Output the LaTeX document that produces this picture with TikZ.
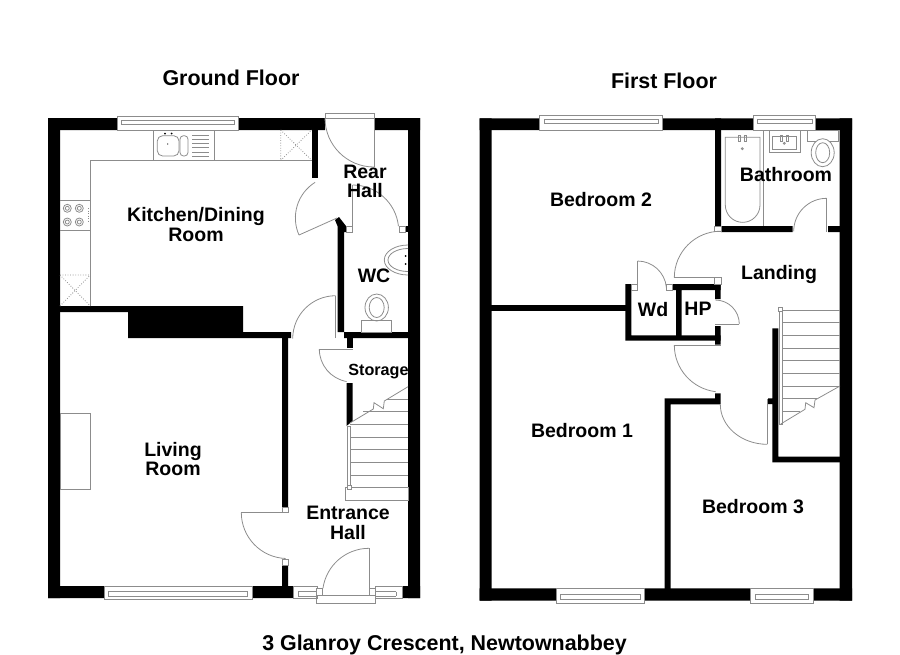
\documentclass[tikz,border=0pt]{standalone}
\usepackage{fontspec}
\setmainfont{Liberation Sans}
\usepackage{tikz}
\tikzstyle{wall} = [fill=black, draw=none]
\tikzstyle{fitting} = [draw=black!45, line width=0.45pt]
\tikzstyle{dotbox} = [draw=black!45, line width=0.45pt, densely dotted]
\tikzstyle{jamb} = [draw=black!45, line width=0.45pt, fill=white]
\tikzstyle{room} = [font=\bfseries\fontsize{11.1}{11}\selectfont, align=center, text=black, inner sep=0pt]
\tikzstyle{title} = [font=\bfseries\fontsize{12.2}{14}\selectfont, text=black, inner sep=0pt]

\begin{document}
\begin{tikzpicture}[x=0.02cm, y=-0.02cm]
   \useasboundingbox (0,0) rectangle (900,654);
   % ground floor walls
   \fill [wall] (48,118) rectangle (117,130) (238,118) rectangle (325,130) (374,118) rectangle (420,130);
   \fill [wall] (48,118) rectangle (60,598) (408,118) rectangle (420,598);
   \fill [wall] (48,586) rectangle (104,598) (252,586) rectangle (293,598) (402,586) rectangle (420,598);
   \fill [wall] (312,118) rectangle (318,178);
   \fill [wall] (335,220) -- (339,217) -- (346,226) -- (346,232) -- (344,232) -- (344,338) -- (408,338) -- (408,332) -- (337.5,332) -- (337.5,226) -- cycle;
   \fill [wall] (405.5,226) rectangle (408,232);
   \fill [wall] (60,306) rectangle (128,312) (128,306) rectangle (243,338) (243,332) rectangle (291,338);
   \fill [wall] (282,332) rectangle (288,507) (282,565) rectangle (288,587);
   \fill [wall] (346.5,338) rectangle (352.5,347.5);
   \fill [wall] (346.5,383) -- (352.5,383) -- (352.5,421) -- (346.5,426) -- cycle;
   % ground floor windows
   \draw [fitting, fill=white] (117,116) rectangle (238,130);
   \draw [fitting] (121,120) rectangle (234,124);
   \draw [fitting, fill=white] (104,586) rectangle (252,599.5);
   \draw [fitting] (108,591.7) rectangle (247,596.7);
   \draw [fitting, fill=white] (293,586) rectangle (317,598);
   \draw [fitting] (298,591.7) -- (317,591.7) (298,596) -- (317,596) (298,591.7) -- (298,596);
   \draw [fitting, fill=white] (375,586) rectangle (402,598);
   \draw [fitting] (375,591.7) -- (396,591.7) (375,596) -- (396,596) (396,591.7) -- (396,596);
   % kitchen units
   \draw [fitting] (312,160.3) -- (90.3,160.3) -- (90.3,306);
   \draw [fitting] (153.3,130) -- (153.3,160.3) (214,130) -- (214,160.3);
   \draw [fitting] (60,200) -- (90.3,200) (60,230) -- (90.3,230);
   \draw [dotbox] (280.7,130) -- (280.7,160.3) (280.7,130) -- (311.7,160.3) (280.7,160.3) -- (311.7,130);
   \draw [dotbox] (60,275) -- (90.3,275) (60,275) -- (90.3,306) (60,306) -- (90.3,275);
   \draw [fitting, rounded corners=3pt] (157.3,135.7) rectangle (179,156);
   \draw [fitting, rounded corners=2pt] (180,135.7) rectangle (188,156);
   \foreach \y in {135.5,139.6,143.7,147.8,151.9,156} \draw [fitting] (192.3,\y) -- (209.3,\y);
   \fill (165,133.5) circle (1) (171.7,133.5) circle (1) (167.7,144) circle (0.6);
   \foreach \a in {67.3,79.3} \foreach \b in {208.3,222} \draw [fitting] (\a,\b) circle (4) (\a,\b) circle (2);
   \draw [dotbox] (88,208) -- (88,222);
   % ground floor sanitary ware
   \draw [fitting] (408,245) arc[start angle=-90, end angle=-270, x radius=23.7, y radius=15];
   \draw [fitting] (408,248.5) arc[start angle=-90, end angle=-270, x radius=20, y radius=11.5];
   \fill (405.7,256) circle (1) (405.7,264) circle (1);
   \draw [fitting] (376.7,307.5) ellipse (11.7 and 13.5) (376.7,307.5) ellipse (7.5 and 10);
   \draw [fitting] (361.7,320.7) rectangle (391.7,332.3);
   % fireplace
   \draw [fitting] (60,413.3) rectangle (90.3,489.3);
   % ground floor stairs
   \draw [fitting] (345,487.7) rectangle (408,500.3);
   \foreach \y in {424.3,437,449.7,462.3,475} \draw [fitting] (350,\y) -- (408,\y);
   \draw [fitting] (386.7,399) -- (408,399) (363.3,411.7) -- (408,411.7);
   \draw [fitting] (350,423) -- (373.3,409) -- (374,402.7) -- (383.3,408.7) -- (384.3,401) -- (408,386.7);
   \draw [fitting, fill=white] (347.7,426) rectangle (350,486);
   \draw [jamb] (347.3,485.7) rectangle (351.3,489.7);
   % ground floor doors
   \draw [fitting] (325,113) rectangle (374,118);
   \draw [fitting] (374,113) -- (374,167);
   \draw [fitting] (374,167) arc[start angle=90, end angle=180, radius=49];
   \draw [fitting] (337,218) -- (299,235);
   \draw [fitting] (299,235) arc[start angle=156, end angle=238, radius=42];
   \draw [jamb] (346,226) rectangle (352.7,232);
   \draw [jamb] (399.3,226) rectangle (405.7,232);
   \draw [fitting] (352.7,226) -- (352.7,185);
   \draw [fitting] (352.7,185) arc[start angle=-90, end angle=-6, radius=46];
   \draw [fitting] (335.7,338) -- (335.7,295.7);
   \draw [fitting] (335.7,295.7) arc[start angle=-90, end angle=-180, radius=43];
   \draw [fitting] (319.3,349) -- (352.5,349);
   \draw [fitting] (319.3,349) arc[start angle=180, end angle=100, radius=33];
   \draw [jamb] (282,507) rectangle (288,512.5);
   \draw [jamb] (282,559) rectangle (288,565);
   \draw [fitting] (241.3,512.5) -- (282,512.5);
   \draw [fitting] (241.3,512.5) arc[start angle=180, end angle=92, radius=46];
   \draw [fitting] (316.7,595) rectangle (375,603.3);
   \draw [jamb] (316.7,588) rectangle (322.7,595);
   \draw [jamb] (369,588) rectangle (375,595);
   \draw [fitting] (369,588) -- (369,548.3);
   \draw [fitting] (369,548.3) arc[start angle=-90, end angle=-172, radius=46.5];
   % first floor walls
   \fill [wall] (479.5,118.3) rectangle (540,130) (662,118.3) rectangle (753,130) (816,118.3) rectangle (852,130);
   \fill [wall] (479.5,118.3) rectangle (491.7,600.7) (839.7,118.3) rectangle (852,600.7);
   \fill [wall] (479.5,588.3) rectangle (556,600.7) (644.7,588.3) rectangle (750,600.7) (813.3,588.3) rectangle (852,600.7);
   \fill [wall] (715,118.3) rectangle (721,226) (721,226) rectangle (792.5,232) (828,226) rectangle (840,232);
   \fill [wall] (491,304.5) rectangle (626,311);
   \fill [wall] (625.3,284) rectangle (631.3,340.7) (625.3,335.3) rectangle (720.7,340.7);
   \fill [wall] (672.3,284) rectangle (720.7,290) (676,284) rectangle (681.7,336);
   \fill [wall] (715,284) rectangle (720.7,299) (715,326) rectangle (720.7,344.7);
   \fill [wall] (715,393.3) rectangle (720.7,404.3) (664.5,398.3) rectangle (720.7,404.3) (664.5,398.3) rectangle (670.7,590);
   \fill [wall] (768,398.3) rectangle (773,404) (772.3,328.3) rectangle (778.3,462.3) (772.3,456.7) rectangle (840,462.3);
   % first floor windows
   \draw [fitting, fill=white] (539.5,115.7) rectangle (662.5,130);
   \draw [fitting] (544,119.5) rectangle (658,123.5);
   \draw [fitting, fill=white] (753.3,115.7) rectangle (815.7,130);
   \draw [fitting] (757,119.5) rectangle (812,123.5);
   \draw [fitting, fill=white] (556,588.3) rectangle (644.7,603);
   \draw [fitting] (560.7,594.3) rectangle (640,599.3);
   \draw [fitting, fill=white] (750,588.3) rectangle (813.3,603);
   \draw [fitting] (755,594.3) rectangle (808,599.3);
   % bathroom
   \draw [fitting] (725.3,137.3) -- (760,137.3) -- (760,205) arc[start angle=0, end angle=180, radius=17.35] -- cycle;
   \draw [fitting] (763.3,130) -- (763.3,226);
   \draw [fitting] (769,130) rectangle (800,152.7) (772.7,136.7) rectangle (796.7,149);
   \draw [fitting] (807.3,130) rectangle (838.3,141.7);
   \draw [fitting, fill=white] (822.7,152.7) ellipse (11.5 and 14) (822.7,152.7) ellipse (7 and 10);
   \foreach \a in {739.3,745,781,787.7} \draw [fitting] (\a-1,135) rectangle (\a+1,141);
   \draw [fitting] (742.3,148.7) circle (1) (784.3,143.3) circle (1);
   % first floor stairs
   \foreach \y in {310,322.7,335.3,348,360.7,373.3,386} \draw [fitting] (782,\y) -- (840,\y);
   \draw [fitting] (782,398.7) -- (817,398.7) (782,411.3) -- (800,411.3);
   \draw [fitting] (780.7,424) -- (805,409.3) -- (805.7,402.7) -- (814,407.7) -- (815,400) -- (840,386);
   \draw [fitting] (779,310) rectangle (782.3,424);
   \draw [jamb] (778.7,307.5) rectangle (782.7,311.5);
   % first floor doors
   \draw [jamb] (714.7,226) rectangle (721,231.7);
   \draw [jamb] (714.7,277.7) rectangle (721,284);
   \draw [jamb] (631.7,284) rectangle (637.7,290);
   \draw [jamb] (666,284) rectangle (672.3,290);
   \draw [fitting] (826.7,198.3) -- (826.7,232);
   \draw [fitting] (826.7,198.3) arc[start angle=-90, end angle=-180, radius=33];
   \draw [fitting] (674.3,277.7) -- (714.7,277.7);
   \draw [fitting] (674.3,277.7) arc[start angle=180, end angle=270, radius=46.5];
   \draw [fitting] (637.5,284) -- (637.5,261);
   \draw [fitting] (637.5,261) arc[start angle=-90, end angle=-5, radius=29];
   \draw [fitting] (715,324) -- (739.3,324);
   \draw [fitting] (739.3,324) arc[start angle=0, end angle=-90, radius=24];
   \draw [fitting] (674.3,345) -- (720.7,345);
   \draw [fitting] (674.3,345) arc[start angle=180, end angle=97, radius=47];
   \draw [fitting] (767.3,399) -- (767.3,444.3);
   \draw [fitting] (767.3,444.3) arc[start angle=90, end angle=180, x radius=47, y radius=40];
   % labels
   \node (ground) [title] at (231,78) {Ground Floor};
   \node (first) [title] at (664,81) {First Floor};
   \node (address) [title] at (444.5,645) {3 Glanroy Crescent, Newtownabbey};
   \node (kitchen) [room] at (196,224.5) {Kitchen/Dining\\Room};
   \node (rear) [room] at (365,181.5) {Rear\\Hall};
   \node (wc) [room] at (374,276) {WC};
   \node (storage) [room, font=\bfseries\fontsize{9.2}{11}\selectfont] at (378.5,372) {Storage};
   \node (living) [room] at (173,459) {Living\\Room};
   \node (entrance) [room] at (348,523) {Entrance\\Hall};
   \node (bed2) [room] at (601,200) {Bedroom 2};
   \node (bath) [room] at (786,175) {Bathroom};
   \node (landing) [room] at (779,274.5) {Landing};
   \node (wd) [room] at (653,310) {Wd};
   \node (hp) [room] at (698,309) {HP};
   \node (bed1) [room] at (582,431) {Bedroom 1};
   \node (bed3) [room] at (753,506.5) {Bedroom 3};
\end{tikzpicture}
\end{document}
